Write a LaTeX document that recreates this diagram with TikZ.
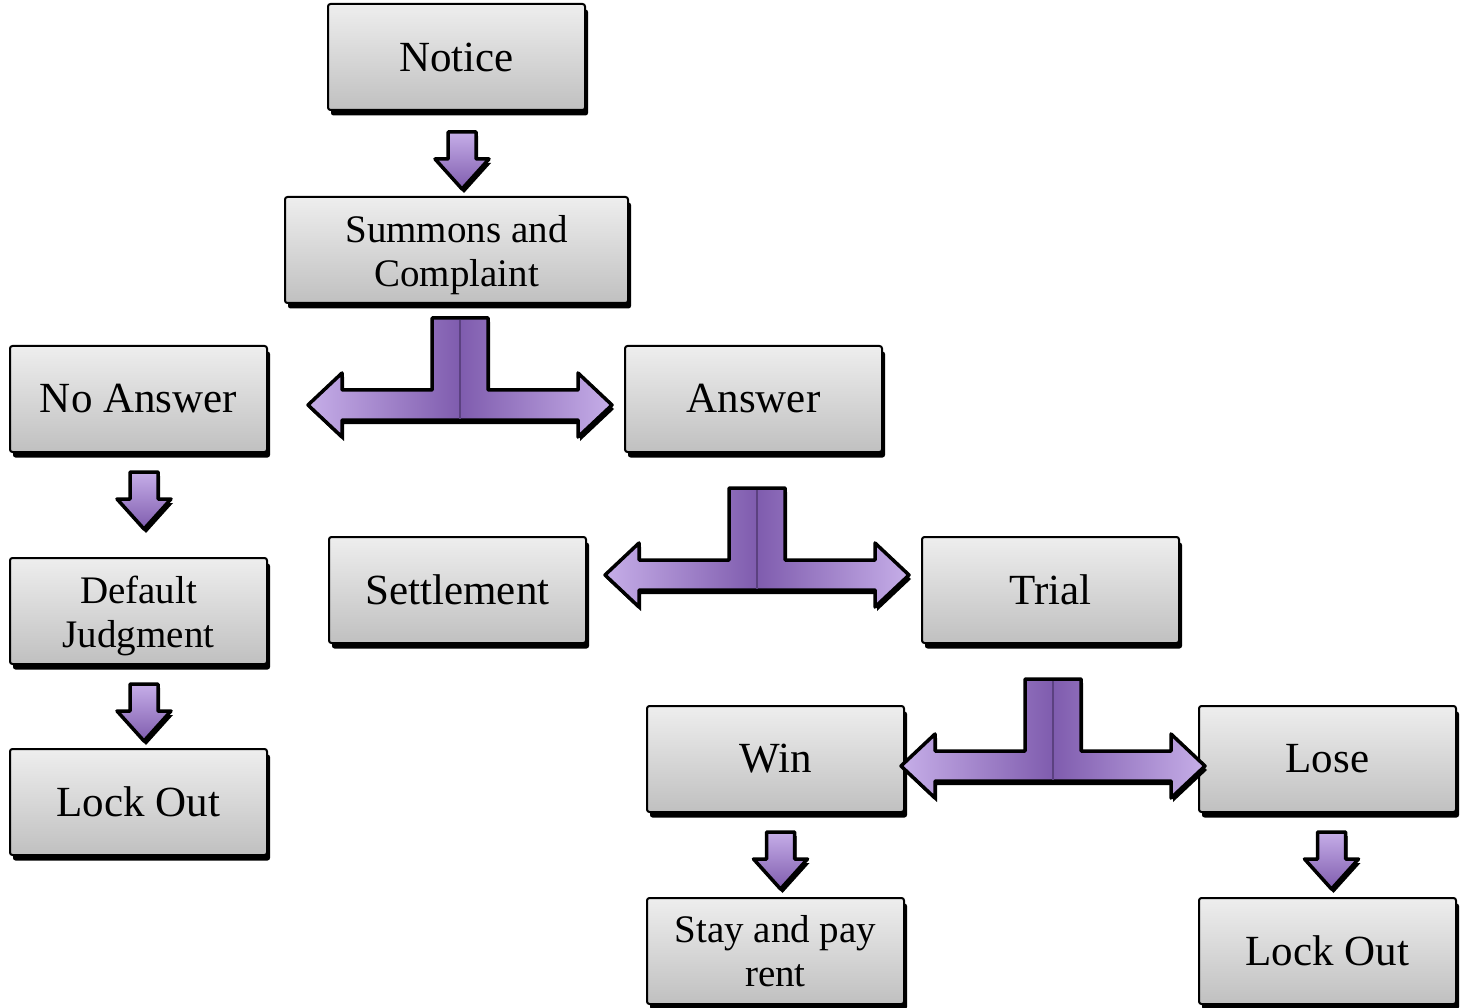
\documentclass[tikz,border=0pt]{standalone}
\usepackage{fontspec}
\setmainfont{Liberation Serif}
\usetikzlibrary{calc,shadows}
\definecolor{boxtop}{HTML}{EEEEEE}
\definecolor{boxbot}{HTML}{C0C0C0}
\definecolor{plight}{HTML}{C6AEE8}
\definecolor{pdark}{HTML}{7F5CAE}
\definecolor{pline}{HTML}{5B4180}
\tikzset{
  box/.style={draw=black, line width=2pt, rounded corners=2.5pt,
    top color=boxtop, bottom color=boxbot,
    minimum width=257pt, minimum height=106pt, inner sep=0pt,
    align=center, font=\fontsize{43}{46}\selectfont,
    general shadow={fill=black, shadow xshift=3pt, shadow yshift=-5.5pt}},
  twoline/.style={font=\fontsize{39}{44}\selectfont},
  purpleT/.style={draw=black, line width=3.5pt, line join=round,
    left color=plight, right color=plight, middle color=pdark,
    general shadow={fill=black, shadow xshift=2pt, shadow yshift=-4pt}},
  purpleD/.style={draw=black, line width=3.5pt, line join=round,
    top color=plight, bottom color=pdark,
    general shadow={fill=black, shadow xshift=2pt, shadow yshift=-4pt}},
  pics/tarrow/.style={code={
    \path[purpleT] (-152,0) -- (-118,-32) -- (-118,-15) -- (-28,-15) -- (-28,-87)
      -- (28,-87) -- (28,-15) -- (118,-15) -- (118,-32) -- (152,0) -- (118,32)
      -- (118,15) -- (-118,15) -- (-118,32) -- cycle;
    \draw[pline, line width=2pt] (0,-85) -- (0,14);
  }},
  pics/darrow/.style={code={
    \path[purpleD] (-14,0) -- (14,0) -- (14,27) -- (27,27) -- (0,57)
      -- (-27,27) -- (-14,27) -- cycle;
  }}
}
\newcommand{\lowerstrut}{\rule{0pt}{37pt}}
\begin{document}
\begin{tikzpicture}[x=1pt,y=-1pt]
\fill[white] (0,0) rectangle (1460,1008);
\useasboundingbox (0,0) rectangle (1460,1008);

\node[box] (notice) at (456.5,57) {Notice};
\node[box, twoline, minimum width=343pt] (summons) at (456.5,250) {\lowerstrut Summons and\\Complaint};
\node[box] (noanswer) at (138.5,399) {No Answer};
\node[box] (answer) at (753.5,399) {Answer};
\node[box, twoline] (default) at (138.5,611) {\lowerstrut Default\\Judgment};
\node[box] (settlement) at (457.5,590) {Settlement};
\node[box] (trial) at (1050.5,590) {Trial};
\node[box] (lockoutL) at (138.5,802) {Lock Out};
\node[box] (win) at (775.5,759) {Win};
\node[box] (lose) at (1327.5,759) {Lose};
\node[box, twoline] (stay) at (775.5,951) {Stay and pay\\rent};
\node[box] (lockoutR) at (1327.5,951) {Lock Out};

\coordinate (d1) at ($(notice.south)+(5.5,21)$);
\coordinate (d2) at ($(noanswer.south)+(5.5,19)$);
\coordinate (d3) at ($(default.south)+(5.5,19)$);
\coordinate (d4) at ($(win.south)+(5,19)$);
\coordinate (d5) at ($(lose.south)+(4,19)$);
\pic at (d1) {darrow};
\pic at (d2) {darrow};
\pic at (d3) {darrow};
\pic at (d4) {darrow};
\pic at (d5) {darrow};

\coordinate (t1) at ($(summons.center |- noanswer.center)+(3.5,6)$);
\coordinate (t2) at ($(answer.center |- settlement.center)+(3.5,-15)$);
\coordinate (t3) at ($(trial.center |- win.center)+(2.5,7)$);
\pic at (t1) {tarrow};
\pic at (t2) {tarrow};
\pic at (t3) {tarrow};
\end{tikzpicture}
\end{document}
